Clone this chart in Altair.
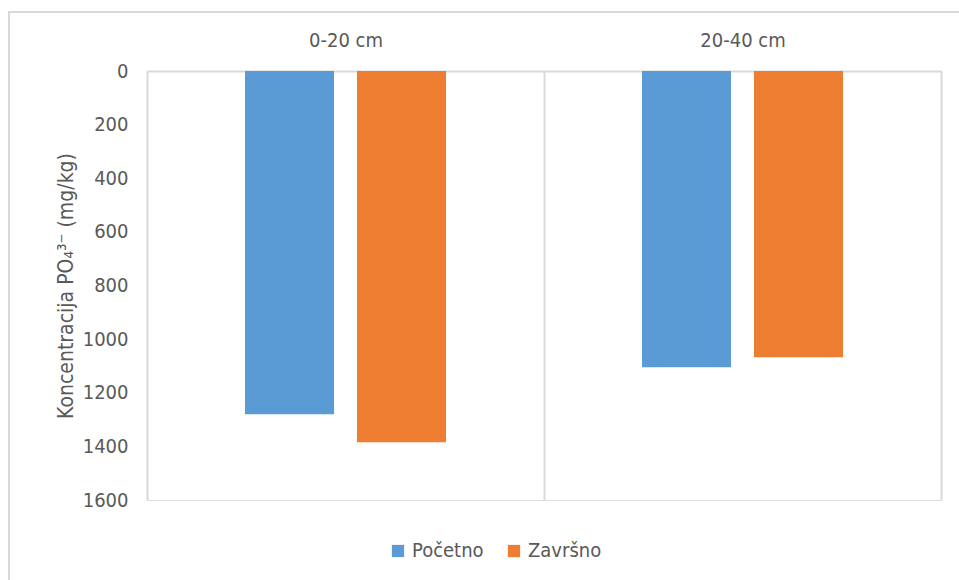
import altair as alt
import pandas as pd

# Soil depth layers, sampling times and PO4 concentrations (mg/kg)
layers = ["0-20 cm", "0-20 cm", "20-40 cm", "20-40 cm"]
stages = ["Početno", "Završno", "Početno", "Završno"]
values = [1280, 1385, 1105, 1068]

stage_order = ["Početno", "Završno"]
stage_colors = ["#5b9bd5", "#ed7d31"]
y_ticks = [0, 200, 400, 600, 800, 1000, 1200, 1400, 1600]

df = pd.DataFrame({"sloj": layers, "faza": stages, "vrijednost": values})

FONT = "'Liberation Sans Narrow', 'DejaVu Sans Condensed', 'Liberation Sans', sans-serif"
GREY_TEXT = "#595959"
GRID = "#d9d9d9"

bars = alt.Chart(df).mark_bar(stroke=None).encode(
    x=alt.X(
        "sloj:N",
        title=None,
        scale=alt.Scale(paddingInner=0, paddingOuter=0),
        axis=alt.Axis(
            orient="top",
            labelAngle=0,
            labelFontSize=20,
            labelColor=GREY_TEXT,
            labelPadding=21,
            ticks=False,
            domainColor=GRID,
            domainWidth=2,
            grid=True,
            gridColor=GRID,
            gridWidth=2,
            tickBand="extent",
        ),
    ),
    xOffset=alt.XOffset(
        "faza:N",
        sort=stage_order,
        scale=alt.Scale(paddingInner=0.205, paddingOuter=0.875),
    ),
    y=alt.Y(
        "vrijednost:Q",
        title="Koncentracija PO₄³⁻ (mg/kg)",
        scale=alt.Scale(domain=[0, 1600], reverse=True, nice=False),
        axis=alt.Axis(
            values=y_ticks,
            format="d",
            labelFontSize=20,
            labelColor=GREY_TEXT,
            labelPadding=19,
            ticks=False,
            domain=False,
            grid=False,
            titleFontSize=21,
            titleFontWeight="normal",
            titleColor=GREY_TEXT,
            titlePadding=6,
        ),
    ),
    color=alt.Color(
        "faza:N",
        sort=stage_order,
        scale=alt.Scale(domain=stage_order, range=stage_colors),
        legend=alt.Legend(
            title=None,
            orient="none",
            direction="horizontal",
            legendX=241,
            legendY=470,
            symbolType="square",
            symbolSize=150,
            symbolStrokeWidth=0,
            labelFontSize=20,
            labelColor=GREY_TEXT,
            columnPadding=20,
            labelOffset=4,
        ),
    ),
)

# light frame around the whole chart area
frame = alt.Chart(pd.DataFrame({"k": [0]})).mark_rect(
    fill=None, stroke=GRID, strokeWidth=2, clip=False
).encode(
    x=alt.value(-138), x2=alt.value(820),
    y=alt.value(-59), y2=alt.value(120 + 429),
)

chart = alt.layer(frame, bars).properties(
    width=794,
    height=429,
    padding={"left": 147, "top": 71, "right": 18, "bottom": 80},
    autosize=alt.AutoSizeParams(type="none"),
    background="white",
).configure_view(stroke=None).configure(font=FONT)

chart.save("out.html", embed_options={"renderer": "svg", "actions": False})
